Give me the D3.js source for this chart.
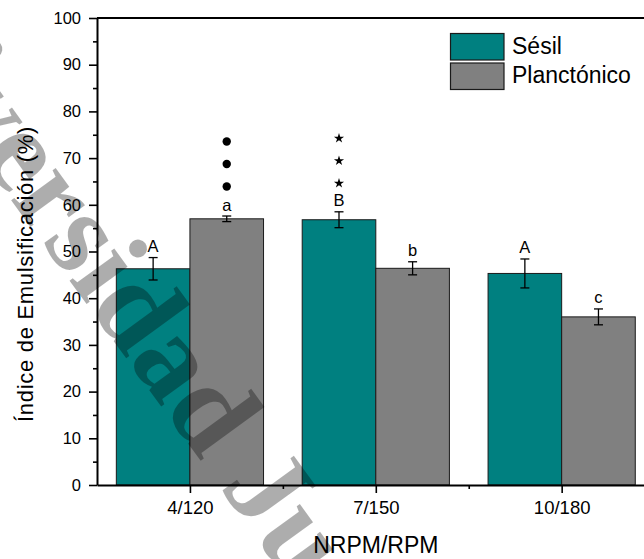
<!DOCTYPE html>
<html>
<head>
<meta charset="utf-8">
<script src="https://cdn.jsdelivr.net/npm/d3@7"></script>
<style>
  html, body { margin: 0; padding: 0; background: #fff; }
  svg { display: block; font-family: "Liberation Sans", Arial, sans-serif; }
</style>
</head>
<body>
<svg id="chart" width="644" height="559"></svg>
<script>
// Emulsification index by agitation condition
const categories = ["4/120", "7/150", "10/180"];
const seriesNames = ["Sésil", "Planctónico"];
const sesil = [46.3, 56.8, 45.3];
const sesilErr = [2.4, 1.7, 3.1];
const planctonico = [57.0, 46.4, 36.0];
const planctonicoErr = [0.6, 1.4, 1.7];
const sesilLetters = ["A", "B", "A"];
const planctonicoLetters = ["a", "b", "c"];
// significance markers: [category index, series index, symbol]
const markers = [[0, 1, "circle"], [1, 0, "star"]];
const yTicks = [0, 10, 20, 30, 40, 50, 60, 70, 80, 90, 100];
const colors = ["#008080", "#808080"];

const svg = d3.select("#chart");
const mLeft = 97, mRight = 654.6, mTop = 18, mBottom = 485;

const x = d3.scaleLinear().domain([0.5, 3.5]).range([mLeft, mRight]);
const y = d3.scaleLinear().domain([0, 100]).range([mBottom, mTop]);
const step = x(2) - x(1);
const bw = step * 0.396;

const series = [
  { name: seriesNames[0], values: sesil, err: sesilErr, letters: sesilLetters, offset: -1 },
  { name: seriesNames[1], values: planctonico, err: planctonicoErr, letters: planctonicoLetters, offset: 0 }
];

// bars with error bars and group letters
series.forEach((s, si) => {
  const g = svg.append("g");
  s.values.forEach((v, i) => {
    const x0 = x(i + 1) + s.offset * bw;
    g.append("rect")
      .attr("x", x0).attr("y", y(v))
      .attr("width", bw).attr("height", y(0) - y(v))
      .attr("fill", colors[si])
      .attr("stroke", "#1a1a1a").attr("stroke-width", 1);
    const cx = x0 + bw / 2;
    const hi = y(v + s.err[i]), lo = y(v - s.err[i]);
    g.append("line").attr("x1", cx).attr("x2", cx).attr("y1", hi).attr("y2", lo)
      .attr("stroke", "#000").attr("stroke-width", 1.3);
    [hi, lo].forEach(yy => g.append("line")
      .attr("x1", cx - 4.5).attr("x2", cx + 4.5).attr("y1", yy).attr("y2", yy)
      .attr("stroke", "#000").attr("stroke-width", 1.3));
    g.append("text")
      .attr("x", cx).attr("y", hi - 5.5)
      .attr("text-anchor", "middle")
      .attr("font-size", 16.5)
      .attr("fill", "#000")
      .text(s.letters[i]);
  });
});

// significance markers stacked above the letters
markers.forEach(([ci, si, kind]) => {
  const s = series[si];
  const cx = x(ci + 1) + s.offset * bw + bw / 2;
  const base = y(s.values[ci] + s.err[ci]) - 5.5;
  for (let k = 0; k < 3; k++) {
    const cy = base - 24 - k * 22.5;
    if (kind === "circle") {
      svg.append("circle").attr("cx", cx).attr("cy", cy).attr("r", 4.2).attr("fill", "#000");
    } else {
      svg.append("path")
        .attr("d", d3.symbol().type(d3.symbolStar).size(32)())
        .attr("transform", `translate(${cx},${cy + 1})`)
        .attr("fill", "#000");
    }
  }
});

// frame
svg.append("line").attr("x1", mLeft).attr("x2", mRight).attr("y1", mTop).attr("y2", mTop)
  .attr("stroke", "#000").attr("stroke-width", 2);
svg.append("line").attr("x1", mRight).attr("x2", mRight).attr("y1", mTop).attr("y2", mBottom)
  .attr("stroke", "#000").attr("stroke-width", 2);

// y axis
const yAxis = svg.append("g").attr("transform", `translate(${mLeft},0)`)
  .call(d3.axisLeft(y).tickValues(yTicks).tickSize(8).tickSizeOuter(0).tickPadding(8));
svg.append("g").attr("transform", `translate(${mLeft},0)`)
  .call(d3.axisLeft(y).tickValues(d3.range(5, 100, 10)).tickSize(4).tickSizeOuter(0).tickFormat(""))
  .call(g => g.select(".domain").remove());
yAxis.selectAll("text").attr("font-size", 16.5).attr("fill", "#000").attr("font-family", "Liberation Sans, Arial, sans-serif");

// x axis
const xAxis = svg.append("g").attr("transform", `translate(0,${mBottom})`)
  .call(d3.axisBottom(x).tickValues([1, 2, 3]).tickFormat((d, i) => categories[i])
    .tickSize(8).tickSizeOuter(0).tickPadding(8));
svg.append("g").attr("transform", `translate(0,${mBottom})`)
  .call(d3.axisBottom(x).tickValues([1.5, 2.5]).tickSize(4).tickSizeOuter(0).tickFormat(""))
  .call(g => g.select(".domain").remove());
xAxis.selectAll("text").attr("font-size", 18.5).attr("fill", "#000").attr("font-family", "Liberation Sans, Arial, sans-serif");

svg.selectAll(".domain").attr("stroke-width", 2);
svg.selectAll(".tick line").attr("stroke-width", 1.6);

// axis titles
svg.append("text")
  .attr("transform", "translate(33,274) rotate(-90)")
  .attr("text-anchor", "middle")
  .attr("font-size", 22)
  .attr("letter-spacing", 0.7)
  .text("Índice de Emulsificación (%)");
svg.append("text")
  .attr("x", x(2)).attr("y", 553)
  .attr("text-anchor", "middle")
  .attr("font-size", 23)
  .text("NRPM/RPM");

// legend
const legend = svg.append("g");
seriesNames.forEach((n, i) => {
  legend.append("rect")
    .attr("x", 450.5).attr("y", 33.5 + i * 29.5)
    .attr("width", 53.5).attr("height", 26.5)
    .attr("fill", colors[i]).attr("stroke", "#1a1a1a").attr("stroke-width", 1.2);
  legend.append("text")
    .attr("x", 512).attr("y", 53.5 + i * 29)
    .attr("font-size", 23)
    .text(n);
});

// watermark laid over the chart
svg.append("text")
  .attr("transform", "translate(-167,-45) rotate(54)")
  .attr("font-family", "Liberation Serif, serif")
  .attr("font-weight", "bold")
  .attr("font-size", 120)
  .attr("fill", "#000")
  .attr("fill-opacity", 0.32)
  .text("Universidad Juárez Autónoma de Tabasco");
</script>
</body>
</html>
